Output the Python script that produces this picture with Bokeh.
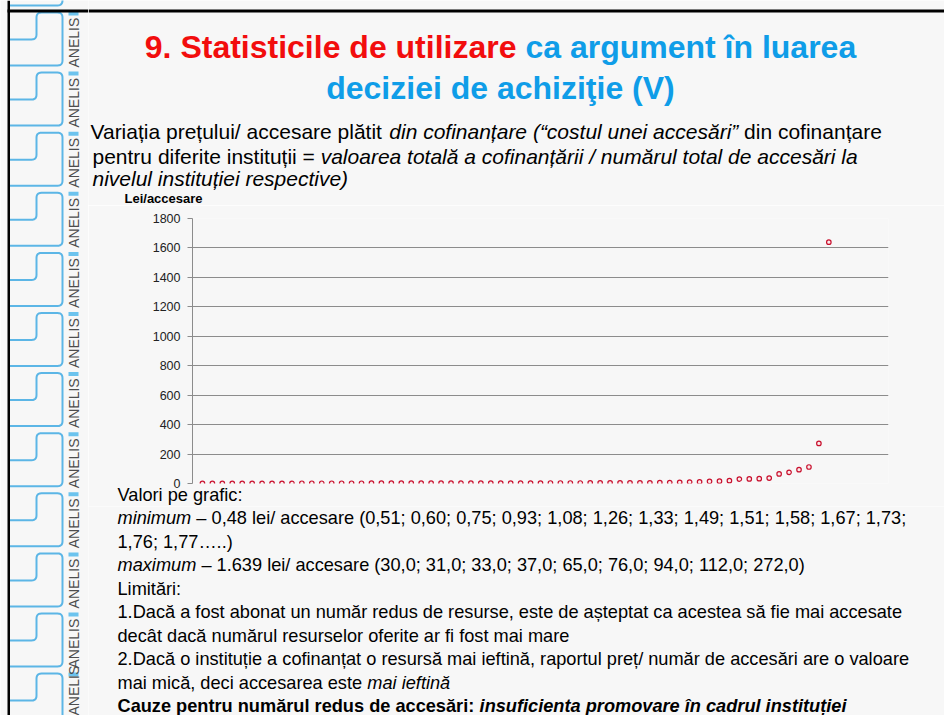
from bokeh.plotting import figure
from bokeh.layouts import row, column
from bokeh.models import Range1d, FixedTicker
from bokeh.core.properties import value
from bokeh.embed import file_html
from bokeh.resources import INLINE

# ---------------- data ----------------
cost_per_access = [0.48, 0.51, 0.60, 0.75, 0.93, 1.08, 1.26, 1.33, 1.49, 1.51, 1.58, 1.67, 1.73, 1.76, 1.77,
                   1.80, 1.85, 1.90, 1.95, 2.00, 2.05, 2.10, 2.17, 2.24, 2.31, 2.38, 2.45, 2.53, 2.61, 2.69,
                   2.77, 2.86, 2.95, 3.04, 3.14, 3.24, 3.34, 3.45, 3.56, 3.68, 3.80, 3.95, 4.10, 4.30, 4.50,
                   4.80, 5.5, 6.5, 8.0, 9.5, 11.0, 14.0, 16.0, 19.0,
                   30.0, 31.0, 33.0, 37.0, 65.0, 76.0, 94.0, 112.0, 272.0, 1639.0]
institution_rank = list(range(1, len(cost_per_access) + 1))
y_ticks = [0, 200, 400, 600, 800, 1000, 1200, 1400, 1600, 1800]
x_limits = (0, 70)
y_limits = (0, 1800)
y_unit_label = "Lei/accesare"

title_line1 = [("9. Statisticile de utilizare ", "bold", "#f20d0d"), ("ca argument în luarea", "bold", "#0f9de8")]
title_line2 = [("deciziei de achiziţie (V)", "bold", "#0f9de8")]
intro_lines = [
    [("Variația prețului/ accesare plătit ", "normal"), ("din cofinanțare (“costul unei accesări”", "italic"),
     (" din cofinanțare", "normal")],
    [("pentru diferite instituții = ", "normal"),
     ("valoarea totală a cofinanțării / numărul total de accesări la", "italic")],
    [("nivelul instituției respective)", "italic")],
]
notes_heading = "Valori pe grafic:"
notes_lines = [
    [("minimum", "italic"), (" – 0,48 lei/ accesare (0,51; 0,60; 0,75; 0,93; 1,08; 1,26; 1,33; 1,49; 1,51; 1,58; 1,67; 1,73;", "normal")],
    [("1,76; 1,77…..)", "normal")],
    [("maximum", "italic"), (" – 1.639 lei/ accesare (30,0; 31,0; 33,0; 37,0; 65,0; 76,0; 94,0; 112,0; 272,0)", "normal")],
    [("Limitări:", "normal")],
    [("1.Dacă a fost abonat un număr redus de resurse, este de așteptat ca acestea să fie mai accesate", "normal")],
    [("decât dacă numărul resurselor oferite ar fi fost mai mare", "normal")],
    [("2.Dacă o instituție a cofinanțat o resursă mai ieftină, raportul preț/ număr de accesări are o valoare", "normal")],
    [("mai mică, deci accesarea este ", "normal"), ("mai ieftină", "italic")],
    [("Cauze pentru numărul redus de accesări: ", "bold"), ("insuficienta promovare în cadrul instituției", "bold italic")],
]

# ---------------- styling ----------------
BG = "#f7f7f7"
FONT = "Liberation Sans"
TILE_BLUE = "#5cb6e6"
PAGE_W, PAGE_H = 944, 715
STRIP_R = 88
TOP_B = 205
CHART_B = 506
FRAME_L, FRAME_R, FRAME_T, FRAME_B = 192, 888, 218, 483
NOTE_X = 117
NOTE_SIZE = 18.2

# approximate Arial / Liberation Sans advance widths (per 1000 em)
def _table(groups):
    t = {}
    for w, chars in groups:
        for c in chars:
            t[c] = w
    return t

REG = _table([(191, "'"), (222, "ijl"), (278, " !,./:;I[]ft\\"), (333, "()-r`“”‘’"), (355, '"'),
              (500, "cksvxyzJ"), (556, "abdeghnopqu0123456789$#_?L–"), (584, "+<=>~"), (611, "FTZ"),
              (667, "ABEKPSVXY&"), (722, "CDHNRUw"), (778, "GOQ"), (833, "mM"), (889, "%"), (944, "W"), (1000, "…")])
BOLD = _table([(278, " ,./I[]ijl\\"), (333, "!()-:;ft“”`"), (389, "r"), (500, "z"),
               (556, "acekvsxyJ0123456789$#_?–"), (584, "+<=>~"), (611, "bdghnopquFTZL"), (667, "ESPVXY"),
               (722, "ABCDHKNRU"), (778, "GOQw"), (833, "M"), (889, "m"), (944, "W"), (1000, "…")])
BASE = {"ă": "a", "â": "a", "î": "i", "ș": "s", "ş": "s", "ț": "t", "ţ": "t", "Ă": "A", "Â": "A", "Î": "I",
        "Ș": "S", "Ş": "S", "Ț": "T", "Ţ": "T"}


def text_width(t, style, size):
    tab = BOLD if "bold" in style else REG
    total = 0
    for c in t:
        if c == "î":
            total += 278
            continue
        c = BASE.get(c, c)
        total += tab.get(c, 556)
    return total * size / 1000.0


def no_align(p):
    if "frame_align" in p.properties():
        p.frame_align = False
    return p


def panel(x0, x1, y0, y1):
    p = figure(width=x1 - x0, height=y1 - y0, x_range=Range1d(x0, x1), y_range=Range1d(y1, y0),
               output_backend="svg", toolbar_location=None, min_border=0, title=None,
               x_axis_location=None, y_axis_location=None, background_fill_color=BG,
               border_fill_color=BG, outline_line_color=None)
    p.grid.visible = False
    return no_align(p)


def put(p, x, y, text, size, style="normal", color="#000000", align="left", angle=0.0):
    p.text(x=[x], y=[y], text=[text], text_font=value(FONT), text_font_size=f"{size}px",
           text_font_style=style, text_color=color, text_align=align, text_baseline="middle", angle=angle)


def put_segments(p, x, y, segments, size, align="left", default_color="#000000"):
    segs = [(s[0], s[1], s[2] if len(s) > 2 else default_color) for s in segments]
    widths = [text_width(t, st, size) for t, st, c in segs]
    if align == "center":
        x = x - sum(widths) / 2.0
    for (t, st, c), w in zip(segs, widths):
        lead = len(t) - len(t.lstrip(" "))
        put(p, x + text_width(" " * lead, st, size), y, t.strip(" "), size, st, c)
        x += w


def rounded_path(pts, r, n=6):
    xs, ys = [pts[0][0]], [pts[0][1]]
    for i in range(1, len(pts) - 1):
        (ax, ay), (px, py), (bx, by) = pts[i - 1], pts[i], pts[i + 1]
        d1 = ((px - ax) ** 2 + (py - ay) ** 2) ** 0.5
        d2 = ((bx - px) ** 2 + (by - py) ** 2) ** 0.5
        s = (px - (px - ax) / d1 * r, py - (py - ay) / d1 * r)
        e = (px + (bx - px) / d2 * r, py + (by - py) / d2 * r)
        for k in range(n + 1):
            t = k / n
            xs.append((1 - t) ** 2 * s[0] + 2 * (1 - t) * t * px + t ** 2 * e[0])
            ys.append((1 - t) ** 2 * s[1] + 2 * (1 - t) * t * py + t ** 2 * e[1])
    xs.append(pts[-1][0])
    ys.append(pts[-1][1])
    return xs, ys


# ---------------- left decorative strip ----------------
strip = panel(0, STRIP_R, 0, PAGE_H)
tile_xs, tile_ys = [], []
tile_tops = [12 + 60.1 * k for k in range(-1, 12)]
for T in tile_tops:
    xs, ys = rounded_path([(9, T + 27), (36, T + 27), (36, T), (62, T), (62, T + 53), (9, T + 53)], 5)
    tile_xs.append(xs)
    tile_ys.append(ys)
strip.multi_line(xs=tile_xs, ys=tile_ys, line_color=TILE_BLUE, line_width=2)
for T in tile_tops[1:-1]:
    strip.quad(left=[68], right=[78], top=[T - 1], bottom=[T + 3], fill_color="#6cc3ee", line_color=None)
    put(strip, 73.5, T + 55, "ANELIS", 14, "normal", "#4d4d4d", "left", angle=1.5708)
T_last = tile_tops[-1]
strip.quad(left=[68], right=[78], top=[T_last - 1], bottom=[T_last + 3], fill_color="#6cc3ee", line_color=None)
put(strip, 73.5, PAGE_H, "ANELIS", 14, "normal", "#4d4d4d", "left", angle=1.5708)
strip.quad(left=[7], right=[9.5], top=[0], bottom=[PAGE_H], fill_color="#000000", line_color=None)
strip.quad(left=[7], right=[STRIP_R], top=[9], bottom=[12], fill_color="#000000", line_color=None)

# ---------------- top: title and intro ----------------
top = panel(STRIP_R, PAGE_W, 0, TOP_B)
top.quad(left=[STRIP_R], right=[PAGE_W], top=[9], bottom=[12], fill_color="#000000", line_color=None)
put_segments(top, 500, 46, title_line1, 32, align="center")
put_segments(top, 500, 87, title_line2, 32, align="center")
intro_y = [131, 156, 178]
intro_x = [90, 92, 92]
for segs, x, y in zip(intro_lines, intro_x, intro_y):
    put_segments(top, x, y, segs, 21)
put(top, 124, 198, y_unit_label, 13, "bold", "#000000")

# ---------------- chart ----------------
chart = figure(width=PAGE_W - STRIP_R, height=CHART_B - TOP_B, x_range=Range1d(*x_limits),
               y_range=Range1d(*y_limits), output_backend="svg", toolbar_location=None,
               title=notes_heading, title_location="below",
               x_axis_location=None, y_axis_location="left",
               min_border_left=FRAME_L - STRIP_R, min_border_right=PAGE_W - FRAME_R,
               min_border_top=FRAME_T - TOP_B, min_border_bottom=CHART_B - FRAME_B,
               background_fill_color=BG, border_fill_color=BG, outline_line_color=None)
no_align(chart)
# the notes heading sits right under the plot: it is the (below) title of the chart
chart.title.align = "left"
chart.title.offset = NOTE_X - FRAME_L
chart.title.standoff = 0
chart.title.vertical_align = "middle"
chart.title.text_font = FONT
chart.title.text_font_size = f"{NOTE_SIZE}px"
chart.title.text_font_style = "normal"
chart.title.text_color = "#000000"

chart.yaxis.ticker = FixedTicker(ticks=y_ticks)
chart.yaxis.major_label_text_font = FONT
chart.yaxis.major_label_text_font_size = "12.5px"
chart.yaxis.major_label_text_color = "#222222"
chart.yaxis.axis_line_color = "#8c8c8c"
chart.yaxis.major_tick_line_color = "#8c8c8c"
chart.yaxis.major_tick_out = 5
chart.yaxis.major_tick_in = 0
chart.yaxis.minor_tick_line_color = None
chart.yaxis.major_label_standoff = 7
chart.xgrid.visible = False
chart.ygrid.grid_line_color = "#8c8c8c"
chart.ygrid.grid_line_width = 1
chart.scatter(institution_rank, cost_per_access, marker="circle", size=4.5, line_color="#c8102e",
              fill_color="#fbeaea", line_width=1.2)

# ---------------- bottom notes ----------------
bottom = panel(STRIP_R, PAGE_W, CHART_B, PAGE_H)
notes_y = [517.5, 541, 564.5, 588, 611.5, 635, 658.5, 682, 705.5]
for segs, y in zip(notes_lines, notes_y):
    put_segments(bottom, NOTE_X, y, segs, NOTE_SIZE)

layout = row(strip, column(top, chart, bottom, spacing=0), spacing=0)
open("out.html", "w").write(file_html(layout, INLINE))
